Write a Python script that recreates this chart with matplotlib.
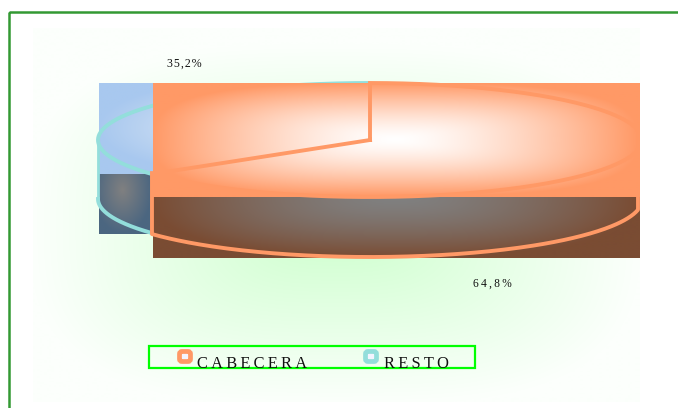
"""Pie chart CABECERA / RESTO with gradient fills, redrawn in pixel coordinates."""

import numpy as np
import matplotlib
matplotlib.use('Agg')
import matplotlib.pyplot as plt
from matplotlib.colors import to_rgb
from matplotlib.patches import FancyBboxPatch, Rectangle

# data
categories = ['CABECERA', 'RESTO']
shares = [64.8, 35.2]
share_labels = ['64,8%', '35,2%']

ORANGE = '#ff9966'
TEAL = '#93dedb'
BROWN = '#7a4c33'
SLATE = '#4b6680'
BLUE = '#a8c8ef'

# pie geometry in pixels
CX, CY, RX, RY = 370, 140, 272, 57
DEPTH = 61


def gradient(ax, box, center, radii, inner, outer, power=1.0, zorder=1, norm=2.0):
    """Elliptical gradient painted over the pixel box (x0, x1, y0, y1)."""
    x0, x1, y0, y1 = box
    xs, ys = np.meshgrid(np.arange(x0, x1 + 1) + 0.5, np.arange(y0, y1 + 1) + 0.5)
    t = (np.abs((xs - center[0]) / radii[0]) ** norm
         + np.abs((ys - center[1]) / radii[1]) ** norm) ** (1 / norm)
    t = np.clip(t, 0, 1)[..., None] ** power
    img = np.array(to_rgb(inner)) * (1 - t) + np.array(to_rgb(outer)) * t
    ax.imshow(img, extent=(x0, x1, y1, y0), aspect='auto', zorder=zorder,
              interpolation='bilinear')


def rim(a0, a1, dy=0):
    """Points of the pie ellipse between two clock angles, degrees from the top."""
    a = np.radians(np.linspace(a0, a1, 200))
    return CX + RX * np.sin(a), CY - RY * np.cos(a) + dy


def spaced(s, gap='\u2009'):
    return gap.join(s)


fig = plt.figure(figsize=(6.78, 4.08), dpi=100)
ax = fig.add_axes([0, 0, 1, 1])

# background glow
gradient(ax, (33, 640, 28, 402), (336, 225), (305, 180), '#ccffcc', '#fcfffc', zorder=0, norm=3.0)

# slice angles, clockwise from 12 o'clock
split = shares[0] / sum(shares) * 360
split_x, split_y = rim(split, split)
split_x, split_y = split_x[0], split_y[0]
left_x = CX - RX

# RESTO: side then top
x0, y1 = int(left_x) + 1, int(split_y)
gradient(ax, (x0, 153, y1, y1 + 60), (123, y1 + 16), (30, 44), '#808080', SLATE, 1.0, 1)
gradient(ax, (x0, 153, 83, y1), (234, 128), (136, 46), '#dde8f5', BLUE, 1.0, 1)

# RESTO outline sits under the CABECERA fill
x, y = rim(split, 360)
ax.plot(x, y, color=TEAL, lw=2.8, zorder=1.5, solid_capstyle='butt')
ax.plot([left_x, left_x], [CY, CY + DEPTH - 2], color=TEAL, lw=2.0, zorder=1.5)
x, y = rim(split, 270, DEPTH - 2)
ax.plot(x, y, color=TEAL, lw=2.8, zorder=1.5)

# CABECERA: side then top
gradient(ax, (153, 640, 197, 258), (396, 197), (243, 61), '#808080', BROWN, 1.5, 2, norm=2.5)
gradient(ax, (153, 640, 83, 197), (396, 140), (243, 57), '#ffffff', ORANGE, 1.4, 2, norm=3.0)

# CABECERA outline
x, y = rim(0, split)
ax.plot(np.minimum(np.r_[CX, x, CX], 638), np.r_[CY, y, CY], color=ORANGE, lw=2.8, zorder=4,
        solid_joinstyle='miter')
x, y = rim(90, split, DEPTH)
x = np.r_[x[0], x, split_x, split_x]
y = np.r_[CY + 57, y, y[-1], split_y]
ax.plot(np.minimum(x, 638), y - 1, color=ORANGE, lw=2.8, zorder=4)

# percent labels
ax.text(167, 64, spaced(share_labels[1], '\u200a'), fontsize=8.6,
        family=['Liberation Serif', 'DejaVu Serif'],
        color='#111111', va='center', ha='left', zorder=5)
ax.text(473, 284, spaced(share_labels[0], '\u2009'), fontsize=8.3,
        family=['Liberation Serif', 'DejaVu Serif'],
        color='#111111', va='center', ha='left', zorder=5)

# legend
ax.add_patch(Rectangle((149, 346), 326, 22, fill=False, ec='#00ff00', lw=1.6, zorder=5))
for name, color, sx, tx in zip(categories, [ORANGE, TEAL], [178, 364], [197, 384]):
    ax.add_patch(FancyBboxPatch((sx + 3, 353), 8, 7, boxstyle='round,pad=1.5,rounding_size=2.5',
                                fc='#f4f4ff', ec=color, lw=3.4, zorder=6))
    ax.text(tx, 368, spaced(name), fontsize=11.8, family=['Liberation Serif', 'DejaVu Serif'],
            color='#111111', va='baseline', ha='left', zorder=7)

# outer frame runs off the right and bottom of the picture
ax.add_patch(Rectangle((9, 12), 700, 430, fill=False, ec='#339933', lw=1.8, zorder=8))

ax.set_xlim(0, 678)
ax.set_ylim(408, 0)
ax.axis('off')

fig.savefig('out.png', dpi=100, facecolor='white')
